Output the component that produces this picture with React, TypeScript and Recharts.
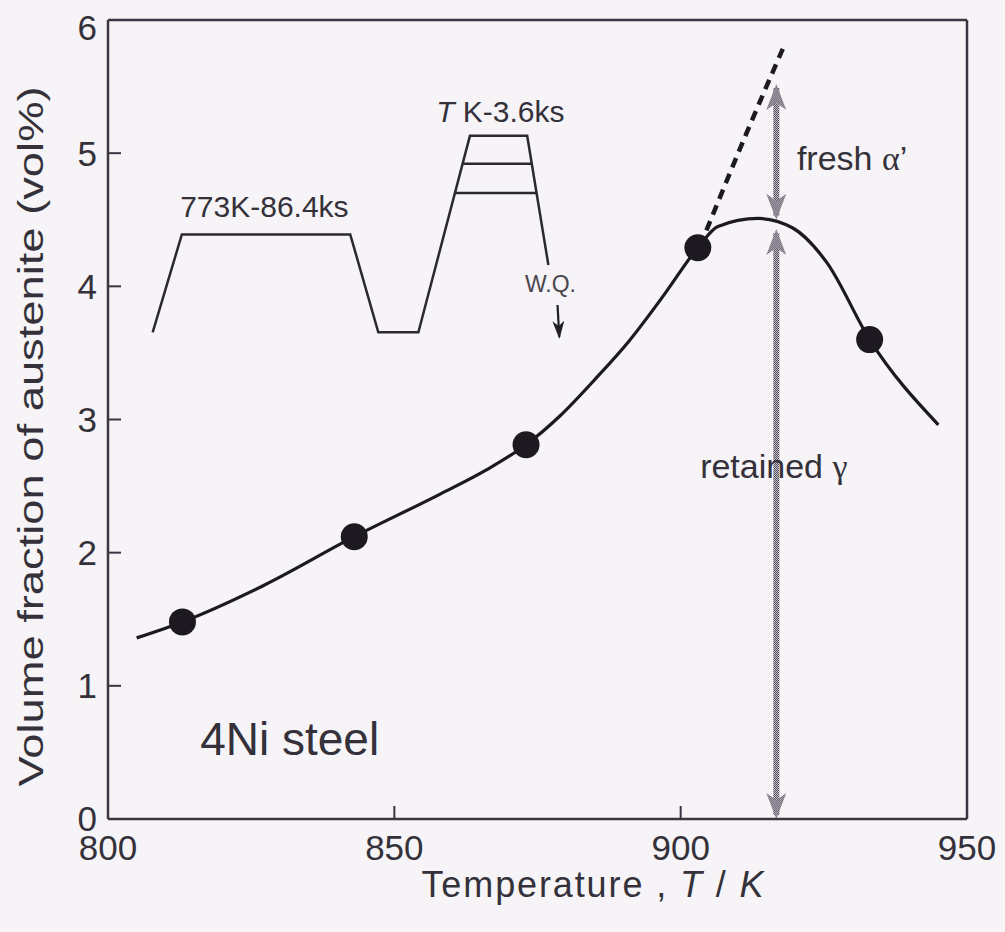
import { useEffect } from 'react';
import { ComposedChart, Line, Scatter, XAxis, YAxis, ReferenceDot } from 'recharts';

const FONT = '"Liberation Sans", Arial, Helvetica, sans-serif';
const GREEK = '"Liberation Serif", "DejaVu Serif", serif';
const INK = '#34313b';

const xTicks = [800, 850, 900, 950];
const yTicks = [0, 1, 2, 3, 4, 5, 6];

// measured points
const measuredT = [813, 843, 873, 903, 933];
const measuredV = [1.48, 2.12, 2.81, 4.29, 3.6];

// fitted curve through the data
const fitT = [805, 813, 827, 843, 858, 866, 873, 879, 885, 891, 897, 903, 906.5, 913.5, 919.5, 925.5, 933, 945];
const fitV = [1.36, 1.48, 1.75, 2.12, 2.44, 2.62, 2.81, 3.03, 3.3, 3.59, 3.93, 4.29, 4.45, 4.51, 4.44, 4.18, 3.6, 2.96];

// dashed extrapolation
const extrapT = [904.5, 911.5, 918.2];
const extrapV = [4.42, 5.15, 5.82];

// heat treatment sketch (inset), in axis units
const cycleT = [807.8, 812.9, 842.3, 847.2, 854.2, 863.2, 873.2, 876.9];
const cycleV = [3.655, 4.39, 4.39, 3.655, 3.655, 5.13, 5.13, 4.16];
const holdAT = [861.9, 874.0];
const holdAV = [4.92, 4.92];
const holdBT = [860.6, 874.8];
const holdBV = [4.7, 4.7];
const wqT = [878.5, 878.8];
const wqV = [3.86, 3.62];

// grey double arrows
const arrowT = [916.7, 916.7];
const freshV = [5.49, 4.53];
const retainedV = [4.4, 0.03];

const pts = (ts: number[], vs: number[]) => ts.map((t, i) => ({ t, v: vs[i] }));

const lineProps = {
  dataKey: 'v',
  dot: false,
  activeDot: false,
  isAnimationActive: false,
  legendType: 'none' as const,
};

function BigDot(p: any) {
  return <circle cx={p.cx} cy={p.cy} r={13.5} fill="#1c1920" />;
}

function note(text: React.ReactNode, size: number, fill = INK) {
  return (p: any) => (
    <text x={p.cx} y={p.cy} fontSize={size} fill={fill} fontFamily={FONT}>
      {text}
    </text>
  );
}

function XTitle({ viewBox }: any) {
  const x = viewBox.x + viewBox.width / 2 + 55;
  const y = viewBox.y + 78;
  return (
    <text
      x={x}
      y={y}
      textAnchor="middle"
      fontSize={36}
      textLength={342}
      lengthAdjust="spacing"
      fill={INK}
      fontFamily={FONT}
    >
      Temperature , <tspan fontStyle="italic">T</tspan> / <tspan fontStyle="italic">K</tspan>
    </text>
  );
}

function YTitle({ viewBox }: any) {
  const cx = viewBox.x - 18;
  const cy = viewBox.y + viewBox.height / 2 + 17;
  return (
    <text
      x={cx}
      y={cy}
      transform={`rotate(-90, ${cx}, ${cy})`}
      textAnchor="middle"
      dominantBaseline="central"
      fontSize={35}
      textLength={700}
      lengthAdjust="spacingAndGlyphs"
      fill={INK}
      fontFamily={FONT}
    >
      Volume fraction of austenite (vol%)
    </text>
  );
}

export default function App() {
  useEffect(() => {
    document.body.style.background = '#f6f4f6';
  }, []);

  const axisLine = { stroke: '#3a3742', strokeWidth: 2.5 };
  const tickLine = { stroke: '#3a3742', strokeWidth: 2 };
  const tickStyle = { fontSize: 35, fill: INK, fontFamily: FONT };

  return (
    <div style={{ width: 989, height: 916, background: '#f6f4f6' }}>
      <ComposedChart width={989} height={916} margin={{ top: 10, right: 20, bottom: 45, left: 40 }}>
        <defs>
          <pattern id="chk" width="2" height="2" patternUnits="userSpaceOnUse">
            <rect width="2" height="2" fill="#c6c2cc" />
            <rect width="1" height="1" fill="#524d5a" />
            <rect x="1" y="1" width="1" height="1" fill="#524d5a" />
          </pattern>
          <marker
            id="greyHead"
            viewBox="0 0 26 20"
            refX="22"
            refY="10"
            markerWidth="26"
            markerHeight="20"
            markerUnits="userSpaceOnUse"
            orient="auto-start-reverse"
          >
            <path d="M0,0 L26,10 L0,20 L7,10 z" fill="url(#chk)" />
          </marker>
          <marker
            id="blackHead"
            viewBox="0 0 18 12"
            refX="16"
            refY="6"
            markerWidth="18"
            markerHeight="12"
            markerUnits="userSpaceOnUse"
            orient="auto"
          >
            <path d="M0,0 L18,6 L0,12 L5,6 z" fill="#222026" />
          </marker>
        </defs>

        <XAxis
          dataKey="t"
          type="number"
          domain={[800, 950]}
          ticks={xTicks}
          height={60}
          axisLine={axisLine}
          tickLine={tickLine}
          tickSize={-13}
          tickMargin={29}
          tick={tickStyle}
          label={{ content: XTitle }}
        />
        <XAxis
          xAxisId="top"
          orientation="top"
          type="number"
          domain={[800, 950]}
          ticks={xTicks}
          height={2}
          axisLine={axisLine}
          tickLine={tickLine}
          tickSize={-13}
          tick={false}
        />
        <YAxis
          dataKey="v"
          type="number"
          domain={[0, 6]}
          ticks={yTicks}
          width={60}
          axisLine={axisLine}
          tickLine={tickLine}
          tickSize={-13}
          tickMargin={24}
          tick={tickStyle}
          label={{ content: YTitle }}
        />
        <YAxis
          yAxisId="r"
          orientation="right"
          type="number"
          domain={[0, 6]}
          ticks={yTicks}
          width={10}
          axisLine={axisLine}
          tickLine={tickLine}
          tickSize={-13}
          tick={false}
        />

        {/* inset: heat treatment schedule */}
        <Line {...lineProps} data={pts(cycleT, cycleV)} type="linear" stroke="#2b2830" strokeWidth={2.5} />
        <Line {...lineProps} data={pts(holdAT, holdAV)} type="linear" stroke="#2b2830" strokeWidth={2.5} />
        <Line {...lineProps} data={pts(holdBT, holdBV)} type="linear" stroke="#2b2830" strokeWidth={2.5} />
        <Line {...lineProps} data={pts(wqT, wqV)} type="linear" stroke="#222026" strokeWidth={2.2} markerEnd="url(#blackHead)" />

        {/* grey arrows */}
        <Line
          {...lineProps}
          data={pts(arrowT, freshV)}
          type="linear"
          stroke="url(#chk)"
          strokeWidth={6}
          markerStart="url(#greyHead)"
          markerEnd="url(#greyHead)"
        />
        <Line
          {...lineProps}
          data={pts(arrowT, retainedV)}
          type="linear"
          stroke="url(#chk)"
          strokeWidth={6}
          markerStart="url(#greyHead)"
          markerEnd="url(#greyHead)"
        />

        {/* curves */}
        <Line {...lineProps} data={pts(extrapT, extrapV)} type="monotone" stroke="#1c1920" strokeWidth={4.5} strokeDasharray="10 7" />
        <Line {...lineProps} data={pts(fitT, fitV)} type="monotone" stroke="#1c1920" strokeWidth={3.2} />
        <Scatter data={pts(measuredT, measuredV)} shape={BigDot} isAnimationActive={false} legendType="none" />

        {/* text notes */}
        <ReferenceDot x={812.6} y={4.52} r={0} shape={note('773K-86.4ks', 30)} />
        <ReferenceDot
          x={857.3}
          y={5.235}
          r={0}
          shape={note(
            <>
              <tspan fontStyle="italic">T</tspan> K-3.6ks
            </>,
            30,
          )}
        />
        <ReferenceDot x={872.8} y={3.96} r={0} shape={note('W.Q.', 23, '#4a4650')} />
        <ReferenceDot
          x={920.3}
          y={4.874}
          r={0}
          shape={note(
            <>
              fresh <tspan fontFamily={GREEK}>α</tspan>’
            </>,
            34,
          )}
        />
        <ReferenceDot
          x={903.4}
          y={2.563}
          r={0}
          shape={note(
            <>
              retained <tspan fontFamily={GREEK}>γ</tspan>
            </>,
            34,
          )}
        />
        <ReferenceDot x={816.1} y={0.48} r={0} shape={note('4Ni steel', 46)} />
      </ComposedChart>
    </div>
  );
}
